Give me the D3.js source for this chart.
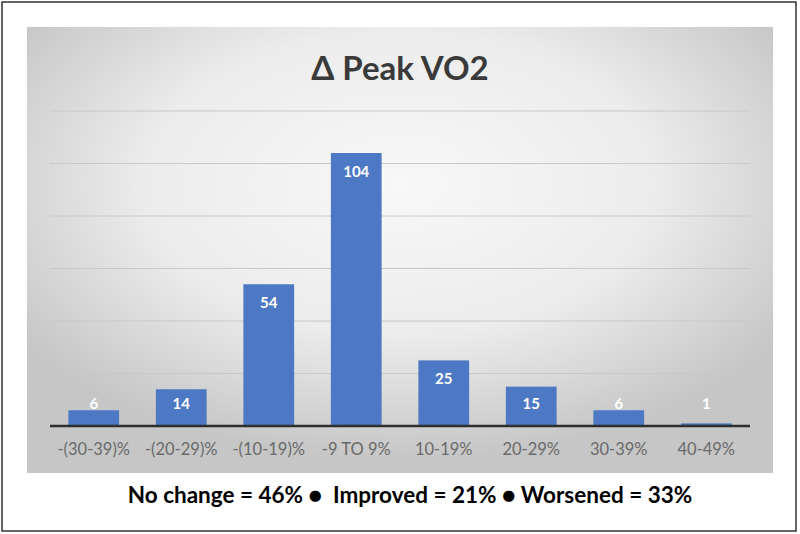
<!DOCTYPE html>
<html>
<head>
<meta charset="utf-8">
<script src="https://cdn.jsdelivr.net/npm/d3@7"></script>
<style>
  html, body { margin: 0; padding: 0; background: #fff; }
  svg { display: block; font-family: Lato, "Open Sans", sans-serif; }
</style>
</head>
<body>
<svg id="chart" width="800" height="534"></svg>
<script>
  // chart data
  const categories = ['-(30-39)%', '-(20-29)%', '-(10-19)%', '-9 TO 9%', '10-19%', '20-29%', '30-39%', '40-49%'];
  const counts = [6, 14, 54, 104, 25, 15, 6, 1];
  const gridTicks = [20, 40, 60, 80, 100, 120];
  const title = '\u0394 Peak VO2';
  const footer = 'No change = 46% \u25CF  Improved = 21% \u25CF Worsened = 33%';

  const svg = d3.select('#chart');

  // background gradient of the chart panel
  const defs = svg.append('defs');
  const grad = defs.append('radialGradient')
    .attr('id', 'panelGrad')
    .attr('cx', '50%').attr('cy', '35%').attr('r', '62%');
  grad.append('stop').attr('offset', '0%').attr('stop-color', '#f8f8f8');
  grad.append('stop').attr('offset', '55%').attr('stop-color', '#ececec');
  grad.append('stop').attr('offset', '100%').attr('stop-color', '#c6c6c6');

  // outer frame
  svg.append('rect')
    .attr('x', 2).attr('y', 2)
    .attr('width', 794).attr('height', 529)
    .attr('fill', '#fff')
    .attr('stroke', '#333')
    .attr('stroke-width', 1.5);

  // gray panel
  svg.append('rect')
    .attr('x', 27).attr('y', 27)
    .attr('width', 746).attr('height', 446)
    .attr('fill', 'url(#panelGrad)');

  const margin = {left: 50, right: 50, top: 111, bottom: 108};
  const width = 800 - margin.left - margin.right;
  const baseY = 534 - margin.bottom;

  const x = d3.scaleBand()
    .domain(categories)
    .range([margin.left, margin.left + width])
    .paddingInner(0.42)
    .paddingOuter(0.21);

  const y = d3.scaleLinear()
    .domain([0, 120])
    .range([baseY, margin.top]);

  // gridlines
  svg.append('g')
    .selectAll('line')
    .data(gridTicks)
    .join('line')
    .attr('x1', margin.left)
    .attr('x2', margin.left + width)
    .attr('y1', d => y(d))
    .attr('y2', d => y(d))
    .attr('stroke', '#c8c8c8')
    .attr('stroke-width', 1);

  // bars
  svg.append('g')
    .selectAll('rect')
    .data(counts)
    .join('rect')
    .attr('x', (d, i) => x(categories[i]))
    .attr('y', d => y(d))
    .attr('width', x.bandwidth())
    .attr('height', d => y(0) - y(d))
    .attr('fill', '#4d79c4');

  // value labels, inside the top of the bar (clamped for tiny bars)
  svg.append('g')
    .selectAll('text')
    .data(counts)
    .join('text')
    .attr('x', (d, i) => x(categories[i]) + x.bandwidth() / 2)
    .attr('y', d => Math.min(y(d) + 20, y(0) - 21))
    .attr('text-anchor', 'middle')
    .attr('dominant-baseline', 'middle')
    .attr('fill', '#fff')
    .attr('font-size', 15)
    .attr('font-weight', 'bold')
    .text(d => d);

  // x axis
  const xAxis = svg.append('g')
    .attr('transform', `translate(0,${baseY})`)
    .call(d3.axisBottom(x).tickSize(0).tickPadding(17));
  xAxis.select('.domain')
    .attr('stroke', '#2e2e2e')
    .attr('stroke-width', 2.5)
    .attr('d', `M${margin.left},0H${margin.left + width}`);
  xAxis.selectAll('text')
    .attr('fill', '#6a6a6a')
    .attr('font-size', 16.5)
    .attr('font-family', 'Lato, "Open Sans", sans-serif');

  // title
  svg.append('text')
    .attr('x', 400)
    .attr('y', 80)
    .attr('text-anchor', 'middle')
    .attr('fill', '#3a3a3a')
    .attr('font-size', 33)
    .attr('font-weight', 'bold')
    .text(title);

  // footer summary
  svg.append('text')
    .attr('x', 410)
    .attr('y', 503)
    .attr('text-anchor', 'middle')
    .attr('fill', '#000')
    .attr('font-size', 22.5)
    .attr('font-weight', 'bold')
    .attr('xml:space', 'preserve')
    .text(footer);
</script>
</body>
</html>
